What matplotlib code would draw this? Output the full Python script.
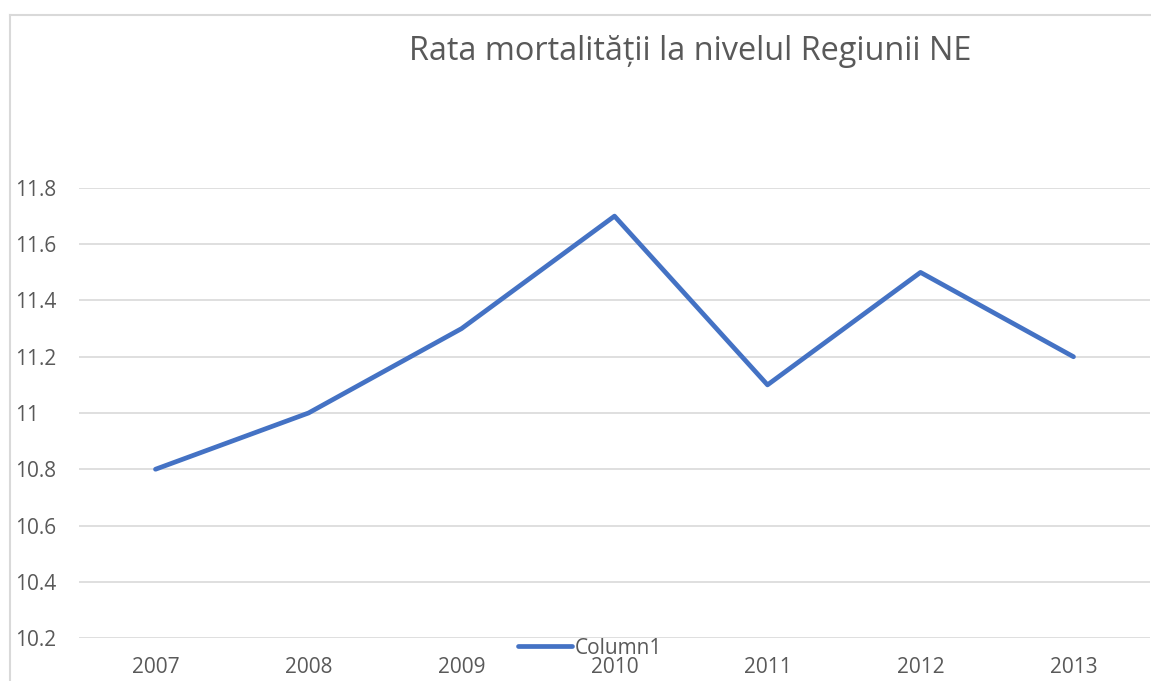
import matplotlib
matplotlib.use("Agg")
import matplotlib.pyplot as plt
from matplotlib.lines import Line2D

years = ["2007", "2008", "2009", "2010", "2011", "2012", "2013"]
values = [10.8, 11.0, 11.3, 11.7, 11.1, 11.5, 11.2]
yticks = [10.2, 10.4, 10.6, 10.8, 11.0, 11.2, 11.4, 11.6, 11.8]
ytick_labels = ["10.2", "10.4", "10.6", "10.8", "11", "11.2", "11.4", "11.6", "11.8"]
title = "Rata mortalității la nivelul Regiunii NE"
series_name = "Column1"

W, H = 1151, 681
plt.rcParams['font.family'] = ['Open Sans', 'DejaVu Sans']
fig = plt.figure(figsize=(W / 100, H / 100), dpi=100)

# chart frame
fig.add_artist(Line2D([10 / W, 10 / W], [0, 1 - 15 / H], color="#D9D9D9", lw=1.5, transform=fig.transFigure))
fig.add_artist(Line2D([10 / W, 1], [1 - 15 / H, 1 - 15 / H], color="#D9D9D9", lw=1.5, transform=fig.transFigure))

ax = fig.add_axes([79 / W, 1 - 638 / H, (1150 - 79) / W, (638 - 188) / H])
x = list(range(len(years)))
line, = ax.plot(x, values, color="#4472C4", lw=3.4, solid_joinstyle="round", solid_capstyle="round", label=series_name)
ax.set_xlim(-0.5, len(years) - 0.5)
ax.set_ylim(10.2, 11.8)
ax.set_yticks(yticks)
ax.set_yticklabels(ytick_labels)
ax.set_xticks(x)
ax.set_xticklabels(years)
for s in ax.spines.values():
    s.set_visible(False)
ax.grid(axis="y", color="#D9D9D9", lw=1.2)
ax.set_axisbelow(True)
ax.tick_params(axis="both", length=0, colors="#595959", labelsize=15)
ax.tick_params(axis="y", pad=46)
ax.tick_params(axis="x", pad=14)
for lab in ax.get_yticklabels():
    lab.set_horizontalalignment("left")

fig.text(690 / W, 1 - 51 / H, title, ha="center", va="center", fontsize=23.4, color="#595959")

fig.legend(handles=[line], labels=[series_name], loc="center", bbox_to_anchor=(590 / W, 1 - 648 / H),
           frameon=False, fontsize=15, handlelength=2.6, handletextpad=0.15, labelcolor="#595959",
           borderpad=0, borderaxespad=0)

fig.savefig("out.png", dpi=100)
